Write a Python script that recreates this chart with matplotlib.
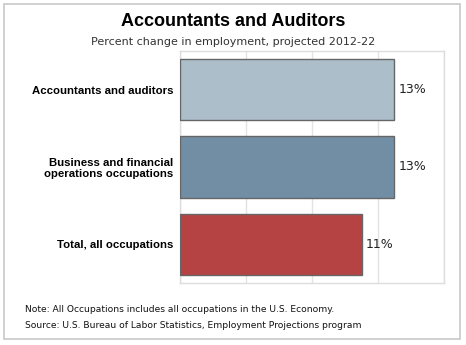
import matplotlib
matplotlib.use("Agg")
import matplotlib.pyplot as plt
from matplotlib.patches import Rectangle

# data
categories = ["Accountants and auditors",
              "Business and financial\noperations occupations",
              "Total, all occupations"]
values = [13, 13, 11]
bar_colors = ["#adbecb", "#718ea4", "#b54343"]
x_ticks = [0, 4, 8, 12, 16]

W, H = 466, 345
fig = plt.figure(figsize=(W / 100, H / 100), dpi=100)

# outer light frame
fig.patches.append(Rectangle((4 / W, 6 / H), 456 / W, 335 / H, transform=fig.transFigure,
                             fill=False, edgecolor="#c8c8c8", linewidth=1.2))

ax = fig.add_axes([180 / W, 1 - 283 / H, 264 / W, 232 / H])
ypos = list(range(len(categories)))
ax.barh(ypos, values, height=0.79, color=bar_colors, edgecolor="#666666", linewidth=1, zorder=3)
ax.set_xlim(0, 15.9)
ax.set_ylim(len(categories) - 0.5, -0.5)
ax.set_xticks(x_ticks)
ax.xaxis.grid(True, color="#e3e3e3", linewidth=1, zorder=0)
ax.tick_params(axis="x", length=0, labelbottom=False)
ax.tick_params(axis="y", length=0, pad=5)
ax.set_yticks(ypos)
ax.set_yticklabels(categories, fontsize=8.2, fontweight="bold", family="Liberation Sans",
                   linespacing=1.15)
for s in ax.spines.values():
    s.set_color("#dddddd")
    s.set_linewidth(1)

for i, v in enumerate(values):
    ax.annotate(f"{v}%", (v, i), xytext=(3, 0), textcoords="offset points",
                va="center", ha="left", fontsize=9, color="#222222", family="DejaVu Sans")

fig.text(0.5, 1 - 22 / H, "Accountants and Auditors", ha="center", va="center",
         fontsize=13, fontweight="bold", family="Liberation Sans")
fig.text(0.5, 1 - 42 / H, "Percent change in employment, projected 2012-22", ha="center",
         va="center", fontsize=8.0, color="#333333", family="DejaVu Sans")

fig.text(25 / W, 1 - 310 / H, "Note: All Occupations includes all occupations in the U.S. Economy.",
         ha="left", va="center", fontsize=6.6, color="#111111", family="DejaVu Sans")
fig.text(25 / W, 1 - 326 / H, "Source: U.S. Bureau of Labor Statistics, Employment Projections program",
         ha="left", va="center", fontsize=6.6, color="#111111", family="DejaVu Sans")

fig.savefig("out.png", dpi=100)
